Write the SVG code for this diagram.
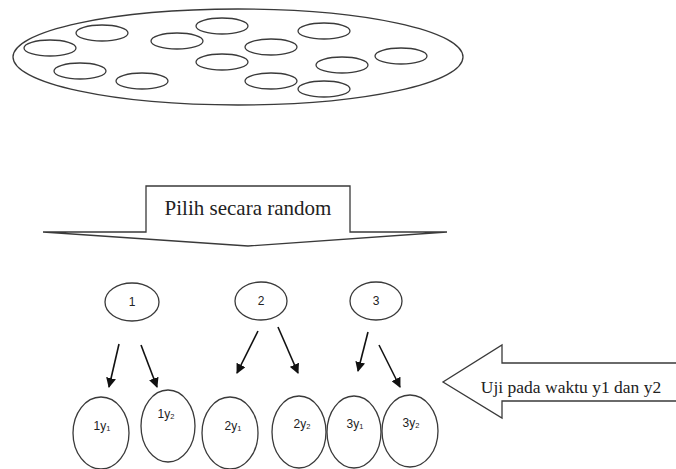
<svg xmlns="http://www.w3.org/2000/svg" width="676" height="469" viewBox="0 0 676 469">
<defs>
<style>
.o{fill:none;stroke:#3a3a3a;stroke-width:1.3}
.w{fill:#fff;stroke:#3a3a3a;stroke-width:1.3}
.c{stroke:#111;stroke-width:1.6;fill:none}
.s{font-family:"Liberation Serif","Times New Roman",serif;fill:#222}
.n{font-family:"Liberation Sans",Arial,sans-serif;font-size:12px;fill:#222;text-anchor:middle}
.sub{font-size:7.5px}
</style>
<marker id="ah" viewBox="0 0 10 10" refX="9" refY="5" markerWidth="10" markerHeight="10" markerUnits="userSpaceOnUse" orient="auto">
<path d="M0,0 L10,5 L0,10 z" fill="#111"/>
</marker>
</defs>
<rect width="676" height="469" fill="#fff"/>
<g id="population">
<ellipse class="o" cx="238" cy="57" rx="225" ry="48"/>
<ellipse class="o" cx="102" cy="33" rx="26" ry="8"/>
<ellipse class="o" cx="222" cy="26" rx="26" ry="8"/>
<ellipse class="o" cx="324" cy="31" rx="26" ry="8"/>
<ellipse class="o" cx="50" cy="48" rx="26" ry="8"/>
<ellipse class="o" cx="177" cy="41" rx="26" ry="8"/>
<ellipse class="o" cx="271" cy="47" rx="26" ry="8"/>
<ellipse class="o" cx="401" cy="56" rx="26" ry="8"/>
<ellipse class="o" cx="80" cy="71" rx="26" ry="8"/>
<ellipse class="o" cx="222" cy="62" rx="26" ry="8"/>
<ellipse class="o" cx="342" cy="65" rx="26" ry="8"/>
<ellipse class="o" cx="142" cy="81" rx="26" ry="8"/>
<ellipse class="o" cx="271" cy="81" rx="26" ry="8"/>
<ellipse class="o" cx="324" cy="89" rx="26" ry="8"/>
</g>
<g id="pilih">
<path class="w" d="M146,186 L350,186 L350,232 L447,232 L248,246 L43,232 L146,232 Z"/>
<text class="s" x="248" y="215" font-size="21" text-anchor="middle">Pilih secara random</text>
</g>
<g id="uji">
<path class="w" d="M680,363 L502,363 L502,345 L443,382 L502,418 L502,401 L680,401"/>
<text class="s" x="571" y="393" font-size="17.5" text-anchor="middle">Uji pada waktu y1 dan y2</text>
</g>
<g id="g1"><ellipse class="o" cx="132" cy="302" rx="27" ry="19"/><text class="n" x="132" y="306">1</text></g>
<g id="g2"><ellipse class="o" cx="261" cy="301" rx="26" ry="19"/><text class="n" x="261" y="305">2</text></g>
<g id="g3"><ellipse class="o" cx="376" cy="301" rx="26" ry="19"/><text class="n" x="376" y="305">3</text></g>
<g id="n1y1"><ellipse class="o" cx="101" cy="433" rx="28" ry="36"/><text class="n" x="102" y="430">1y<tspan class="sub" dy="1">1</tspan></text></g>
<g id="n1y2"><ellipse class="o" cx="168" cy="426" rx="27" ry="36"/><text class="n" x="166" y="418">1y<tspan class="sub" dy="1">2</tspan></text></g>
<g id="n2y1"><ellipse class="o" cx="230" cy="433" rx="28" ry="36"/><text class="n" x="233" y="430">2y<tspan class="sub" dy="1">1</tspan></text></g>
<g id="n2y2"><ellipse class="o" cx="299" cy="432" rx="27" ry="36"/><text class="n" x="302" y="428">2y<tspan class="sub" dy="1">2</tspan></text></g>
<g id="n3y1"><ellipse class="o" cx="354" cy="432" rx="27" ry="36"/><text class="n" x="355" y="428">3y<tspan class="sub" dy="1">1</tspan></text></g>
<g id="n3y2"><ellipse class="o" cx="410" cy="431" rx="28" ry="36"/><text class="n" x="411" y="427">3y<tspan class="sub" dy="1">2</tspan></text></g>
<g id="connectors">
<line class="c" x1="119" y1="344" x2="109" y2="387" marker-end="url(#ah)"/>
<line class="c" x1="141" y1="345" x2="157" y2="387" marker-end="url(#ah)"/>
<line class="c" x1="258" y1="331" x2="237" y2="373" marker-end="url(#ah)"/>
<line class="c" x1="278" y1="327" x2="298" y2="373" marker-end="url(#ah)"/>
<line class="c" x1="368" y1="332" x2="358" y2="371" marker-end="url(#ah)"/>
<line class="c" x1="379" y1="345" x2="400" y2="387" marker-end="url(#ah)"/>
</g>
</svg>
